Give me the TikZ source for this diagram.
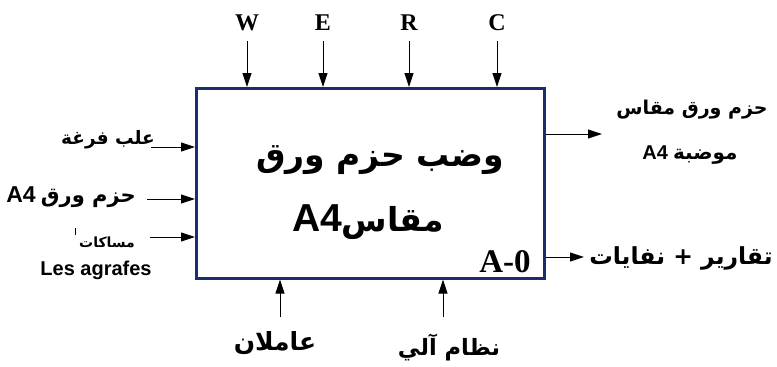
\documentclass[tikz,border=0pt]{standalone}
\usepackage{fontspec}
\setmainfont{Liberation Serif}
\newfontfamily\arabicfont[Script=Arabic]{DejaVu Sans}
\newfontfamily\latinsans{Liberation Sans}
\TeXXeTstate=1
\usetikzlibrary{positioning,arrows.meta,calc}
\definecolor{boxblue}{RGB}{24,46,110}
\newcommand\ar[1]{{\arabicfont\bfseries\beginR #1\endR}}
\newcommand\Afour{{\latinsans\bfseries A4}}
\newcommand\fs[1]{\fontsize{#1}{#1}\selectfont}

\begin{document}
\begin{tikzpicture}[x=1pt,y=-1pt,
  arr/.style={-{Triangle[length=14pt,width=9pt]},line width=0.9pt},
  ctrl/.style={font=\fs{24}\bfseries,inner sep=0pt},
  txt/.style={inner sep=0pt}]
\useasboundingbox (0,0) rectangle (777,367);

% the activity box
\node[draw=boxblue,line width=2.6pt,minimum width=348pt,minimum height=190pt,
  anchor=north west,inner sep=0pt] (box) at (195,87) {};
\node[txt,font=\fs{33}] (t1) at (380,160) {\ar{وضب حزم ورق}};
\node[txt,font=\fs{33}] (t2) at (368,222) {{\fs{39}\Afour}\ar{مقاس}};
\node[txt,font=\fs{33}\bfseries] (code) at (505,262) {A-0};

% controls
\foreach \n/\x in {W/247,E/323,R/409,C/497}{
  \node[ctrl] (\n) at (\x,23) {\n};
  \draw[arr] ([yshift=-10pt]\n.south) -- (\n.south |- box.north);
}

% inputs
\node[txt,font=\fs{18.5}] (in1) at (108,140) {\ar{علب فرغة}};
\node[txt,font=\fs{21}] (in2) at (71,197) {{\fs{23}\Afour}\ \ar{حزم ورق}};
\node[txt,font=\fs{14}] (in3) at (107,242) {\ar{مساكات}};
\node[txt,font=\fs{20}\latinsans\bfseries] (in4) at (96,270) {Les agrafes};
\draw[line width=0.8pt] (75,228) -- (75,235);
\foreach \n/\x/\y in {1/151/147,2/147/199,3/150/237}{
  \coordinate (i\n) at (\x,\y);
  \draw[arr] (i\n) -- (i\n -| box.west);
}

% outputs
\node[txt,font=\fs{19}] (out1) at (692,110) {\ar{حزم ورق مقاس}};
\node[txt,font=\fs{20}] (out2) at (690,155) {\Afour\ \ar{موضبة}};
\node[txt,font=\fs{23.5}] (out3) at (681,258) {\ar{تقارير + نفايات}};
\coordinate (o1) at (602,134);
\coordinate (o2) at (584,257);
\foreach \n in {1,2}
  \draw[arr] (o\n -| box.east) -- (o\n);

% mechanisms
\node[txt,font=\fs{25}] (mec1) at (275,343) {\ar{عاملان}};
\node[txt,font=\fs{22.5}] (mec2) at (449,347) {\ar{نظام آلي}};
\foreach \n/\x in {1/280,2/443}{
  \coordinate (m\n) at (\x,317);
  \draw[arr] (m\n) -- (m\n |- box.south);
}
\end{tikzpicture}
\end{document}
